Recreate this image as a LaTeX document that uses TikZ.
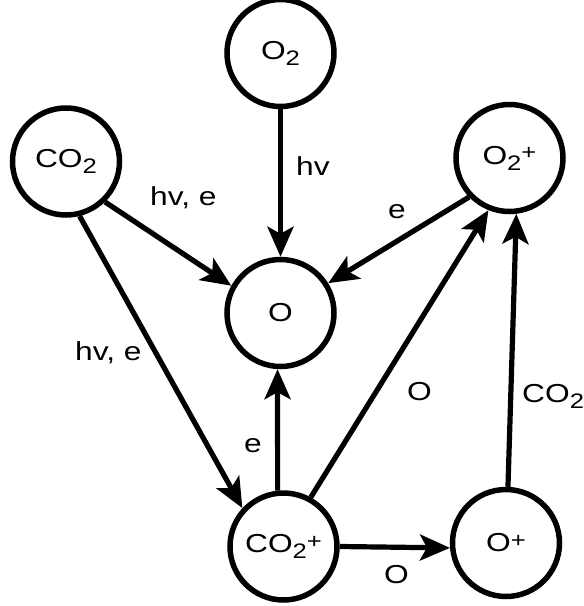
\documentclass[tikz,border=0pt]{standalone}
\usepackage{fontspec}
\setmainfont{Liberation Sans}[FakeStretch=1.22]
\usetikzlibrary{arrows.meta}
\newcommand\chsub[1]{\raisebox{-6pt}{\fontsize{21}{21}\selectfont #1}}
\newcommand\chsup[1]{\raisebox{4.5pt}{\fontsize{21}{21}\selectfont #1}}
\begin{document}
\begin{tikzpicture}[x=1pt,y=-1pt,
  species/.style={circle,draw,line width=5.5pt,minimum size=107pt,inner sep=0pt,font=\fontsize{26}{28}\selectfont},
  arr/.style={line width=5.2pt,-{Stealth[length=30pt,width=26pt,inset=7pt]}},
  lab/.style={font=\fontsize{26}{28}\selectfont,inner sep=0pt,anchor=base west}]
\useasboundingbox (0,0) rectangle (584,606);
\node[species] (O2) at (280.5,53) {O\chsub{2}};
\node[species] (CO2) at (66,161.5) {CO\chsub{2}};
\node[species] (O2p) at (509.5,158) {O\chsub{2}\chsup{+}};
\node[species] (O) at (280.5,313) {O};
\node[species] (CO2p) at (283.5,546.5) {CO\chsub{2}\chsup{+}};
\node[species] (Op) at (506,543) {O\chsup{+}};
\draw[arr] (O2) -- (O);
\draw[arr] (CO2.-46) -- (O.151);
\draw[arr] (O2p.-136) -- (O.32);
\draw[arr] (CO2.-76) -- (CO2p.137);
\draw[arr] (CO2p.96) -- (O.-93);
\draw[arr] (CO2p.61) -- (O2p.-112);
\draw[arr] (CO2p.0) -- (Op.185);
\draw[arr] (Op.88) -- (O2p.-83);
\node[lab] (l1) at (296,175) {hv};
\node[lab] (l2) at (150,205) {hv, e};
\node[lab] (l3) at (388,218) {e};
\node[lab] (l4) at (75,360) {hv, e};
\node[lab] (l5) at (407,400) {O};
\node[lab] (l6) at (522,402) {CO\chsub{2}};
\node[lab] (l7) at (244,452) {e};
\node[lab] (l8) at (384,583) {O};
\end{tikzpicture}
\end{document}
